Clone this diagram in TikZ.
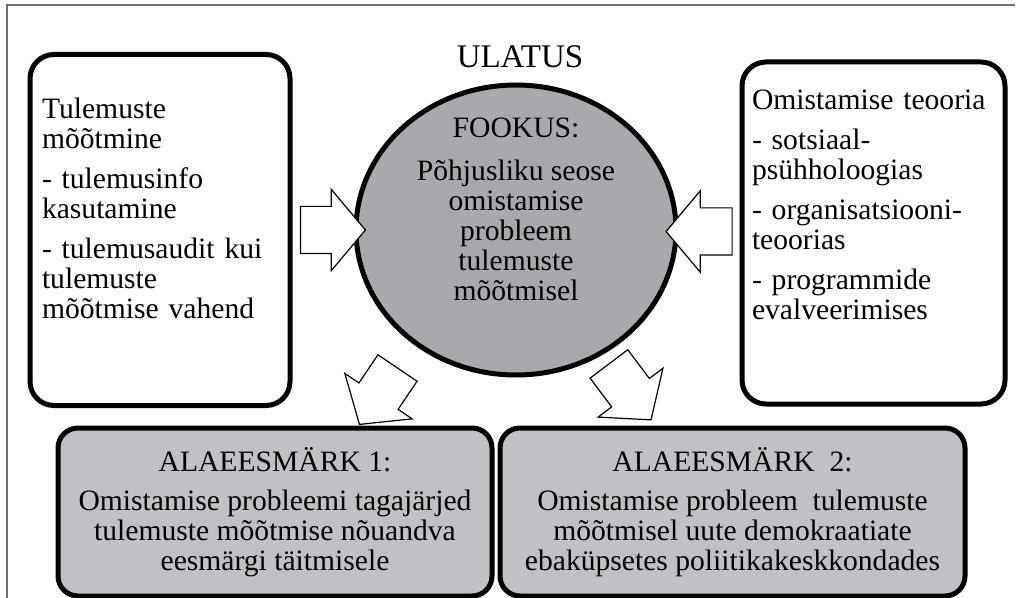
\documentclass[tikz,border=0pt]{standalone}
\usepackage{fontspec}
\setmainfont{Liberation Serif}
\usetikzlibrary{calc,shapes.geometric,shapes.arrows}
\definecolor{focusfill}{HTML}{A7A9AC}
\definecolor{goalfill}{HTML}{C0C1C4}
\definecolor{pageframe}{HTML}{707070}

\begin{document}
\begin{tikzpicture}[
  x=0.5pt, y=-0.5pt,
  textfont/.style={font=\fontsize{14.8}{15}\selectfont},
  sidebox/.style={draw, line width=2.5pt, rounded corners=12pt, fill=white,
    textfont, align=left, inner xsep=6pt},
  focus/.style={ellipse, draw, line width=2.5pt, fill=focusfill,
    minimum width=160pt, minimum height=145pt},
  focustext/.style={textfont, align=center, inner sep=0pt},
  goalbox/.style={draw, line width=2.5pt, rounded corners=10pt, fill=goalfill,
    minimum height=84pt, textfont, align=center},
  blockarrow/.style={single arrow, draw, line width=0.6pt, fill=white,
    inner xsep=0pt, inner ysep=11.5pt, single arrow head extend=8.5pt,
    single arrow tip angle=100}
]
  \useasboundingbox (0,0) rectangle (1020,598);
  \draw[pageframe, line width=0.75pt] (7,598) -- (7,5) -- (1015,5);

  \node[font=\fontsize{16.5}{18}\selectfont] (ulatus) at (520,57) {ULATUS};
  \node[focus] (focus) at (516,230) {};
  \node[focustext] (focuslabel) at ([yshift=10.5pt]focus.center)
    {FOOKUS:\\[6.5pt] Põhjusliku seose\\ omistamise\\ probleem\\ tulemuste\\ mõõtmisel};

  % the deep rule on the last line lifts the text towards the top of the box
  \node[sidebox, minimum width=130pt, minimum height=175.5pt, text width=118pt]
    (measure) at (160,230)
    {Tulemuste\\ mõõtmine\\[5pt] - tulemusinfo\\ kasutamine\\[5pt]
     - tulemusaudit kui\\ tulemuste\\ mõõtmise vahend\rule[-22pt]{0pt}{22pt}};
  \node[sidebox, minimum width=131.5pt, minimum height=171pt, text width=121.5pt,
    inner xsep=5pt] (theory) at (873.5,233)
    {Omistamise teooria\\[5pt] - sotsiaal-\\ psühholoogias\\[5pt]
     - organisatsiooni-\\ teoorias\\[5pt] - programmide\\ evalveerimises\rule[-28pt]{0pt}{28pt}};

  \node[goalbox, minimum width=217pt] (goalone) at (275,512)
    {ALAEESMÄRK 1:\\[4.5pt] Omistamise probleemi tagajärjed\\
     tulemuste mõõtmise nõuandva\\ eesmärgi täitmisele};
  \node[goalbox, minimum width=232.5pt] (goaltwo) at (732.5,512)
    {ALAEESMÄRK\ \ 2:\\[4.5pt] Omistamise probleem\ \ tulemuste\\
     mõõtmisel uute demokraatiate\\ ebaküpsetes poliitikakeskkondades};

  % block arrows into the focus and down to the two sub-goals
  \node[blockarrow, minimum height=32.5pt] (inleft)
    at ($(measure.east)!0.5!(focus.west)$) {};
  \node[blockarrow, minimum height=33pt, rotate=180] (inright)
    at ($(theory.west)!0.5!(focus.east)$) {};
  \node[blockarrow, minimum height=34pt, rotate=236] (outleft) at (384,388) {};
  \node[blockarrow, minimum height=35pt, rotate=307] (outright) at (624,384) {};
\end{tikzpicture}
\end{document}
